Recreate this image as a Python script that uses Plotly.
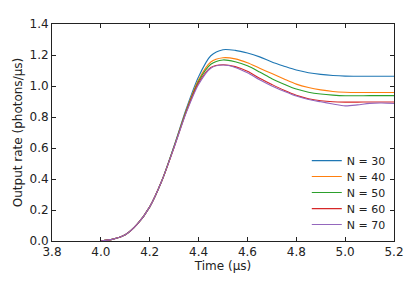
import plotly.graph_objects as go

time_us = [4.00, 4.05, 4.10, 4.15, 4.20, 4.25, 4.30, 4.35, 4.40, 4.45, 4.50, 4.55, 4.60,
           4.65, 4.70, 4.75, 4.80, 4.85, 4.90, 4.95, 5.00, 5.05, 5.10, 5.15, 5.20]

rate_n30 = [0.0, 0.012, 0.04, 0.11, 0.22, 0.39, 0.615, 0.855, 1.06, 1.195, 1.234, 1.23, 1.213,
            1.188, 1.155, 1.128, 1.103, 1.086, 1.075, 1.068, 1.064, 1.063, 1.063, 1.063, 1.063]
rate_n40 = [0.0, 0.012, 0.04, 0.11, 0.22, 0.39, 0.61, 0.845, 1.04, 1.155, 1.182, 1.175, 1.15,
            1.115, 1.08, 1.045, 1.012, 0.99, 0.975, 0.965, 0.96, 0.958, 0.958, 0.958, 0.958]
rate_n50 = [0.0, 0.012, 0.04, 0.11, 0.22, 0.39, 0.61, 0.84, 1.03, 1.14, 1.168, 1.156, 1.13,
            1.09, 1.047, 1.012, 0.98, 0.96, 0.948, 0.941, 0.937, 0.937, 0.938, 0.938, 0.938]
rate_n60 = [0.0, 0.012, 0.04, 0.11, 0.22, 0.39, 0.605, 0.835, 1.02, 1.12, 1.137, 1.125, 1.095,
            1.05, 1.01, 0.972, 0.94, 0.918, 0.905, 0.898, 0.896, 0.896, 0.897, 0.897, 0.897]
rate_n70 = [0.0, 0.012, 0.04, 0.11, 0.22, 0.39, 0.605, 0.83, 1.01, 1.115, 1.135, 1.12, 1.085,
            1.04, 1.0, 0.966, 0.935, 0.913, 0.898, 0.884, 0.872, 0.878, 0.888, 0.89, 0.887]

series_names = ["N = 30", "N = 40", "N = 50", "N = 60", "N = 70"]
series_values = [rate_n30, rate_n40, rate_n50, rate_n60, rate_n70]
colors = ["#1f77b4", "#ff7f0e", "#2ca02c", "#d62728", "#9467bd"]

x_ticks = [3.8, 4.0, 4.2, 4.4, 4.6, 4.8, 5.0, 5.2]
y_ticks = [0.0, 0.2, 0.4, 0.6, 0.8, 1.0, 1.2, 1.4]

legend_ids = ["legend", "legend2", "legend3", "legend4", "legend5"]
legend_y = [0.437, 0.364, 0.290, 0.216, 0.143]

fig = go.Figure()
for name, vals, col, lid in zip(series_names, series_values, colors, legend_ids):
    fig.add_trace(go.Scatter(x=time_us, y=vals, mode="lines", name=name, legend=lid,
                             showlegend=True,
                             line=dict(color=col, width=1.1, shape="spline", smoothing=0.8)))

axis_common = dict(showline=True, linecolor="#222", linewidth=1, mirror="ticks",
                   ticks="inside", ticklen=4, tickcolor="#222", showgrid=False,
                   zeroline=False, tickfont=dict(size=12, color="#222"))

layout_legends = {}
for lid, ly in zip(legend_ids, legend_y):
    layout_legends[lid] = dict(x=0.745, y=ly, xanchor="left", yanchor="top",
                               bgcolor="rgba(0,0,0,0)", font=dict(size=11, color="#222"),
                               itemwidth=30)

fig.update_layout(
    width=407, height=277,
    margin=dict(l=41, r=21, t=9, b=44),
    paper_bgcolor="white", plot_bgcolor="white",
    showlegend=True,
    font=dict(family="DejaVu Sans", size=12, color="#222"),
    xaxis=dict(range=[3.8, 5.2], tickvals=x_ticks, tickformat=".1f",
               title=dict(text="Time (μs)", standoff=2, font=dict(size=12)), **axis_common),
    yaxis=dict(range=[0, 1.4], tickvals=y_ticks, tickformat=".1f",
               title=dict(text="Output rate (photons/μs)", standoff=4, font=dict(size=12)), **axis_common),
    **layout_legends,
)

fig.write_html("out.html")
